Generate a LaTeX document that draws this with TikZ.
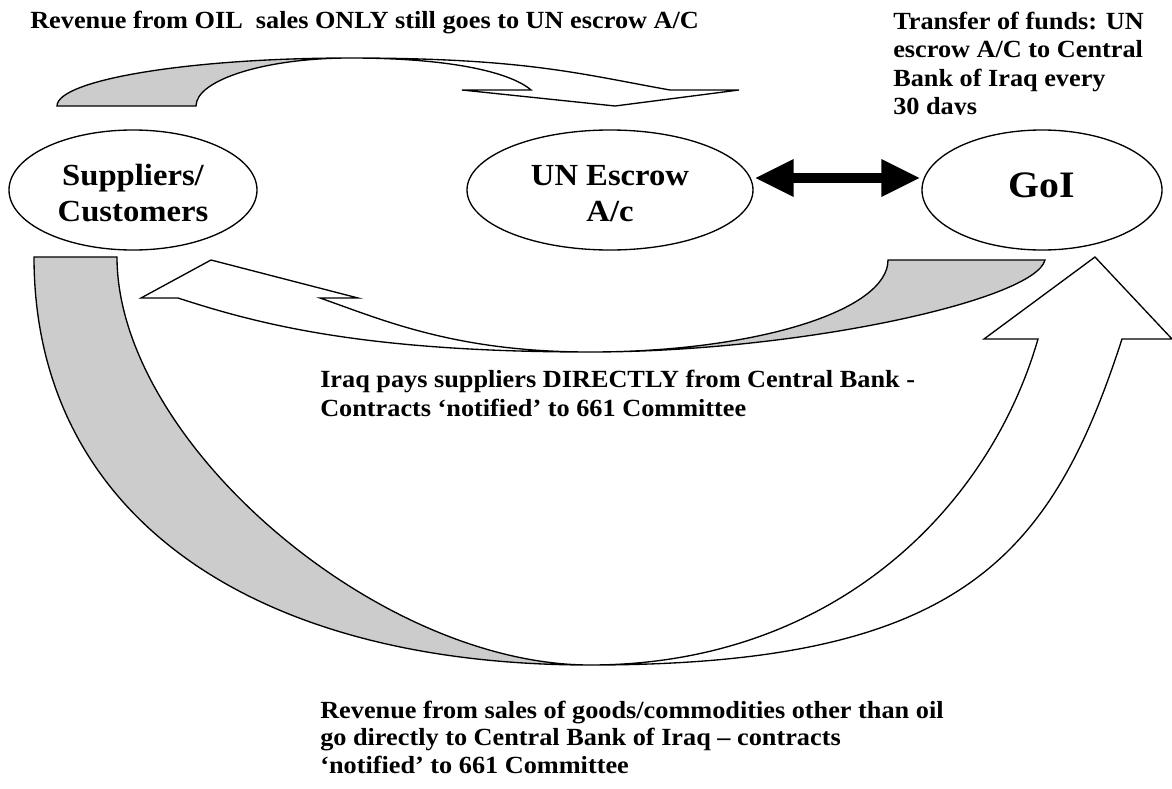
\documentclass[tikz,border=0pt]{standalone}
\usepackage{fontspec}
\setmainfont{Liberation Serif}[FakeStretch=1.065]
\usetikzlibrary{shapes.geometric,calc}
\definecolor{band}{HTML}{CCCCCC}
\begin{document}
\begin{tikzpicture}[x=0.75pt,y=-0.75pt,
  txt/.style={anchor=base west,inner sep=0pt,font=\fontsize{18.5}{21}\selectfont\bfseries},
  ell/.style={ellipse,draw,line width=1pt,inner sep=0pt,align=center,minimum height=90pt,
              font=\fontsize{23}{27}\selectfont\bfseries},
  back/.style={draw,fill=band,line width=1pt,line join=miter},
  front/.style={draw,fill=white,line width=1pt,line join=miter},
  dblshaft/.style={line width=7.5pt}]
\useasboundingbox (0,0) rectangle (1172,789);

% ---- top curved arrow (oil revenue to UN escrow) ----
\filldraw[back] (57,106) .. controls (57,80) and (189,58) .. (350,58)
   .. controls (265,58) and (196,80) .. (196,106) -- cycle;
\filldraw[front] (350,58) .. controls (526,58) and (580,74) .. (670,90)
   -- (739,90) -- (615,106) -- (462,90) -- (531,90)
   .. controls (510,72) and (450,58) .. (350,58) -- cycle;

% ---- middle curved arrow (GoI pays suppliers) ----
\filldraw[back] (888,260) .. controls (888,311) and (754,352) .. (590,352)
   .. controls (800,352) and (1035,300) .. (1045,260) -- cycle;
\filldraw[front] (590,352) .. controls (455,352) and (383,320) .. (320,298)
   -- (358,298) -- (211,260) -- (141,298) -- (178,298)
   .. controls (258,324) and (363,352) .. (590,352) -- cycle;

% ---- big curved arrow (other revenue to Central Bank) ----
\filldraw[back] (34,257) .. controls (34,510) and (245,665) .. (590,665)
   .. controls (377,665) and (117,441) .. (117,257) -- cycle;
\filldraw[front] (590,665) .. controls (960,665) and (1051,558) .. (1122,339)
   -- (1172,339) -- (1095,257) -- (984,339) -- (1038,339)
   .. controls (988,512) and (830,665) .. (590,665) -- cycle;

% ---- nodes ----
\node[ell,minimum width=186pt] (S) at (133,190) {\rule{0pt}{21pt}Suppliers/\\Customers};
\node[ell,minimum width=214.5pt] (U) at (610,190) {\rule{0pt}{21pt}UN Escrow\\A/c};
\node[ell,minimum width=180pt,font=\fontsize{28}{32}\selectfont\bfseries,
      text height=19.5pt,text depth=9pt] (G) at (1042,190) {GoI};

% ---- double arrow UN escrow <-> GoI ----
\coordinate (dl) at ([shift={(2,-12)}]U.east);
\coordinate (dr) at ([shift={(-2,-12)}]G.west);
\draw[dblshaft,shorten <=26pt,shorten >=26pt] (dl) -- (dr);
\fill (dl) -- ([shift={(38,-19)}]dl) -- ([shift={(38,19)}]dl) -- cycle;
\fill (dr) -- ([shift={(-38,-19)}]dr) -- ([shift={(-38,19)}]dr) -- cycle;

% ---- texts ----
\node[txt] (t1) at (30,28) {Revenue from OIL\ \ sales ONLY still goes to UN escrow A/C};
\begin{scope}
\clip (880,0) rectangle (1172,114.8);
\node[txt] (r1) at (893,29) {Transfer of funds: UN};
\node[txt] (r2) at (893,57.5) {escrow A/C to Central};
\node[txt] (r3) at (893,86) {Bank of Iraq every};
\node[txt] (r4) at (893,114.5) {30 days};
\end{scope}
\node[txt] (m1) at (320,387.5) {Iraq pays suppliers DIRECTLY from Central Bank -};
\node[txt] (m2) at (320,416) {Contracts ‘notified’ to 661 Committee};
\node[txt] (b1) at (320,718) {Revenue from sales of goods/commodities other than oil};
\node[txt] (b2) at (320,745.5) {go directly to Central Bank of Iraq – contracts};
\node[txt] (b3) at (320,773) {‘notified’ to 661 Committee};
\end{tikzpicture}
\end{document}
